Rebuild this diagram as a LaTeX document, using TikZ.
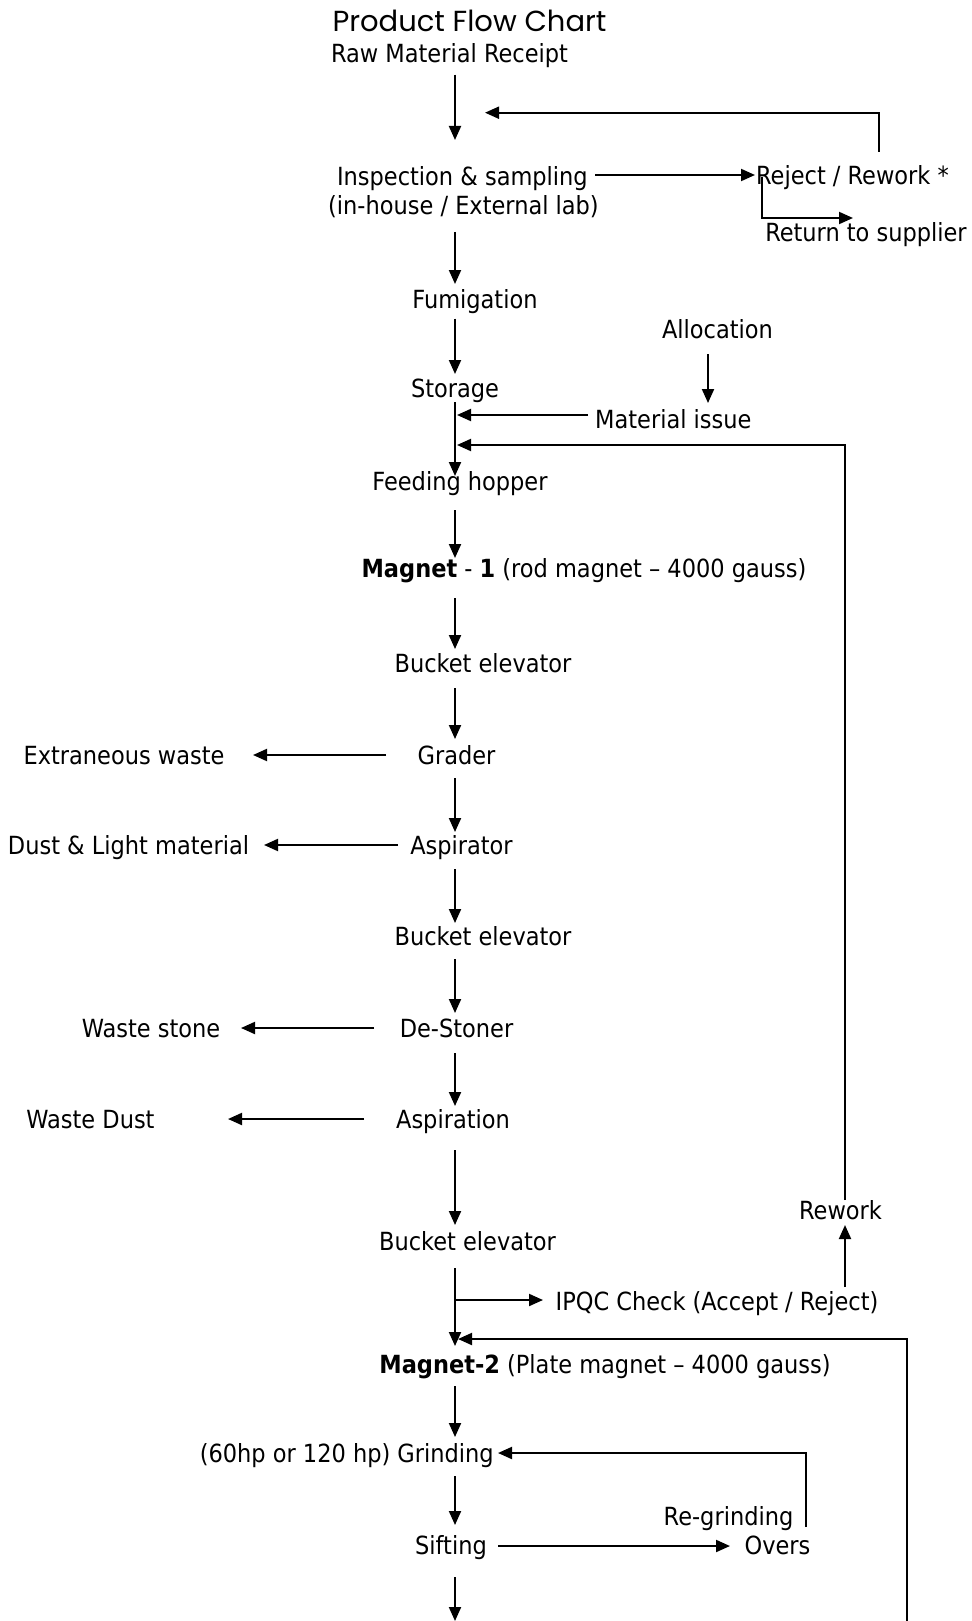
\documentclass[tikz,border=0pt]{standalone}
\usepackage{fontspec}
\setmainfont{DejaVu Sans Condensed}
\newfontfamily\titlefont{Poppins}
\usetikzlibrary{arrows.meta,calc}
\begin{document}
\begin{tikzpicture}[x=1pt,y=-1pt,
  txt/.style={font=\fontsize{25}{29}\selectfont, inner sep=0pt, anchor=base},
  arr/.style={line width=2pt, -{Triangle[length=14pt,width=12pt]}},
  ln/.style={line width=2pt}]
\useasboundingbox (0,0) rectangle (971,1621);
% nodes
\node[txt, font=\titlefont\fontsize{29}{34}\selectfont] (title) at (469.5,31.7) {Product Flow Chart};
\node[txt] (raw) at (449.5,62.7) {Raw Material Receipt};
\node[txt, anchor=base east] (insp) at (588,186) {Inspection \& sampling};
\node[txt] (insp2) at (463.5,215) {(in-house / External lab)};
\node[txt, anchor=base west] (reject) at (756,185) {Reject / Rework *};
\node[txt] (ret) at (866,242) {Return to supplier};
\node[txt] (fumi) at (475,308) {Fumigation};
\node[txt] (stor) at (455,397) {Storage};
\node[txt] (alloc) at (717.5,338) {Allocation};
\node[txt, anchor=base west] (matiss) at (595,428) {Material issue};
\node[txt] (feed) at (460,490) {Feeding hopper};
\node[txt] (mag1) at (584,577) {\textbf{Magnet} - \textbf{1} (rod magnet -- 4000 gauss)};
\node[txt] (be1) at (483,672) {Bucket elevator};
\node[txt] (grader) at (456.5,764) {Grader};
\node[txt] (extw) at (124,764) {Extraneous waste};
\node[txt] (aspr) at (461.5,854) {Aspirator};
\node[txt] (dust) at (128.5,854) {Dust \& Light material};
\node[txt] (be2) at (483,945) {Bucket elevator};
\node[txt] (dst) at (456.5,1037) {De-Stoner};
\node[txt] (wstone) at (151,1037) {Waste stone};
\node[txt] (aspn) at (453,1128) {Aspiration};
\node[txt] (wdust) at (90.5,1128) {Waste Dust};
\node[txt] (be3) at (467.5,1250) {Bucket elevator};
\node[txt] (rework) at (840.5,1219) {Rework};
\node[txt] (ipqc) at (717,1310) {IPQC Check (Accept / Reject)};
\node[txt] (mag2) at (605,1373) {\textbf{Magnet-2} (Plate magnet -- 4000 gauss)};
\node[txt, anchor=base east] (grind) at (494,1462) {(60hp or 120 hp) Grinding};
\node[txt] (regr) at (728.5,1525) {Re-grinding};
\node[txt] (sift) at (451,1554) {Sifting};
\node[txt] (overs) at (777.5,1554) {Overs};
\coordinate (fbstart) at (907,1621);
\coordinate (bottomend) at (455,1621);
% connectors
\draw[arr] ($(raw.base)+(5.5,12)$) -- ($(insp.base east)+(-133,-46)$);
\draw[arr] ($(reject.base west)+(123,-33)$) |- ($(raw.base)+(35.5,50)$);
\draw[arr] ($(insp.base east)+(7,-11)$) -- ($(reject.base west)+(-1,-10)$);
\draw[arr] ($(reject.base west)+(6,-8)$) |- ($(ret.base)+(-13,-24)$);
\draw[arr] ($(insp2.base)+(-8.5,17)$) -- ($(fumi.base)+(-20,-24)$);
\draw[arr] ($(fumi.base)+(-20,10.5)$) -- ($(stor.base)+(0,-23)$);
\draw[arr] ($(alloc.base)+(-9.5,16)$) -- ($(matiss.base west)+(113,-25)$);
\draw[arr] ($(matiss.base west)+(-7,-13)$) -- ($(stor.base)+(2,18)$);
\draw[arr] ($(stor.base)+(0,5)$) -- ($(feed.base)+(-5,-14)$);
\draw[arr] ($(rework.base)+(4.5,-19)$) |- ($(stor.base)+(2,48)$);
\draw[arr] ($(feed.base)+(-5,20)$) -- ($(mag1.base)+(-129,-19)$);
\draw[arr] ($(mag1.base)+(-129,21)$) -- ($(be1.base)+(-28,-23)$);
\draw[arr] ($(be1.base)+(-28,16)$) -- ($(grader.base)+(-1.5,-25)$);
\draw[arr] ($(grader.base)+(-70.5,-9)$) -- ($(extw.base)+(129,-9)$);
\draw[arr] ($(grader.base)+(-1.5,14)$) -- ($(aspr.base)+(-6.5,-22)$);
\draw[arr] ($(aspr.base)+(-63.5,-9)$) -- ($(dust.base)+(135.5,-9)$);
\draw[arr] ($(aspr.base)+(-6.5,15)$) -- ($(be2.base)+(-28,-22)$);
\draw[arr] ($(be2.base)+(-28,14)$) -- ($(dst.base)+(-1.5,-24)$);
\draw[arr] ($(dst.base)+(-82.5,-9)$) -- ($(wstone.base)+(90,-9)$);
\draw[arr] ($(dst.base)+(-1.5,16)$) -- ($(aspn.base)+(2,-22)$);
\draw[arr] ($(aspn.base)+(-89,-9)$) -- ($(wdust.base)+(137.5,-9)$);
\draw[arr] ($(aspn.base)+(2,22)$) -- ($(be3.base)+(-12.5,-25)$);
\draw[arr] ($(be3.base)+(-12.5,18)$) -- ($(mag2.base)+(-150,-27)$);
\draw[arr] ($(be3.base)+(-12.5,50)$) -- ($(ipqc.base)+(-174,-10)$);
\draw[arr] ($(ipqc.base)+(128,-23)$) -- ($(rework.base)+(4.5,6)$);
\draw[arr] (fbstart) |- ($(mag2.base)+(-147,-34)$);
\draw[arr] ($(mag2.base)+(-150,13)$) -- ($(grind.base east)+(-39,-25)$);
\draw[arr] ($(regr.base)+(77.5,2)$) |- ($(grind.base east)+(4,-9)$);
\draw[arr] ($(grind.base east)+(-39,14)$) -- ($(sift.base)+(4,-29)$);
\draw[arr] ($(sift.base)+(47,-8)$) -- ($(overs.base)+(-47.5,-8)$);
\draw[arr] ($(sift.base)+(4,23)$) -- (bottomend);
\end{tikzpicture}
\end{document}
